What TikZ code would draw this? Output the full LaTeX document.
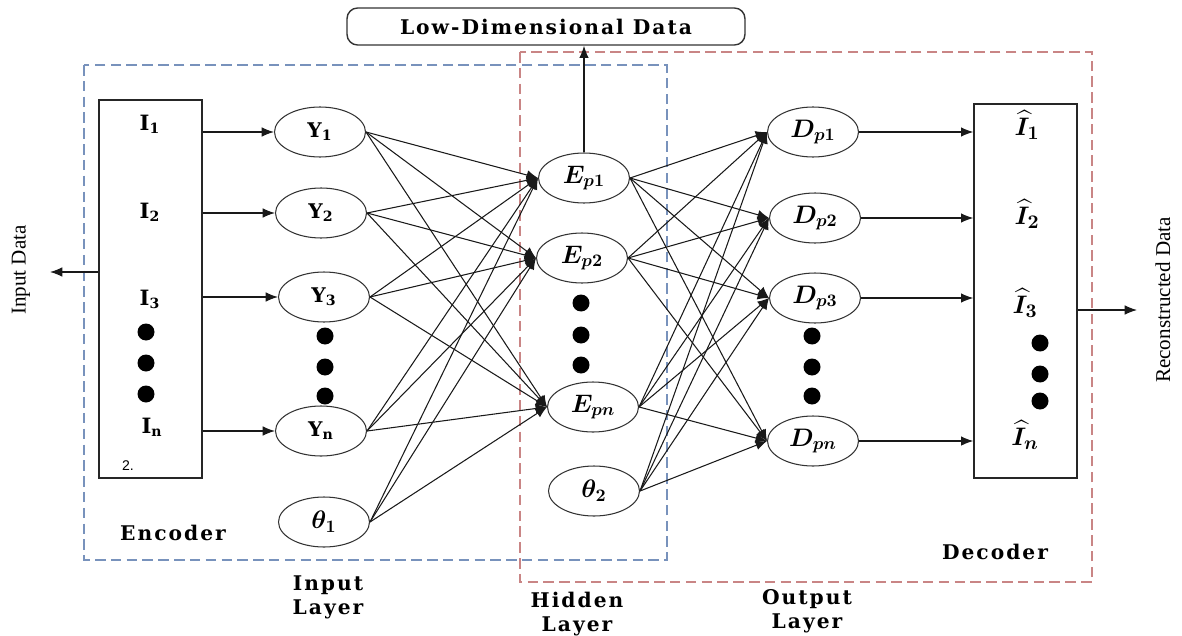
\documentclass[tikz,border=0pt]{standalone}
\usepackage{amsmath,amssymb}
\usepackage{fontspec}
\setmainfont{DejaVu Serif}
\newfontfamily\tagfont[LetterSpace=10]{DejaVu Serif}
\newfontfamily\sidefont{Liberation Serif}
\newfontfamily\notefont{Liberation Sans}
\usetikzlibrary{arrows.meta,positioning,shapes.geometric}
\definecolor{encblue}{HTML}{7892BC}
\definecolor{decred}{HTML}{C98585}
\tikzset{
  unitnode/.style={ellipse,draw=black!80,line width=0.6pt,minimum width=1.82cm,minimum height=1cm,inner sep=0pt,font=\fontsize{11.5}{13}\selectfont\bfseries},
  mathunit/.style={unitnode,font=\fontsize{14}{16}\selectfont},
  vecbox/.style={draw=black!85,line width=0.8pt,minimum width=2.06cm,inner sep=0pt},
  feed/.style={-{Latex[length=7pt,width=5.5pt]},line width=0.7pt,black!90},
  wire/.style={-{Latex[length=6.5pt,width=5.5pt]},line width=0.6pt,black!90},
  encframe/.style={draw=encblue,line width=0.9pt,dash pattern=on 6pt off 3pt},
  decframe/.style={draw=decred,line width=0.9pt,dash pattern=on 6pt off 3pt},
  ellipsisdot/.style={circle,fill=black,inner sep=0pt,minimum size=0.34cm},
  tagtext/.style={font=\tagfont\fontsize{11.5}{13.6}\selectfont\bfseries,align=center},
  vectext/.style={font=\fontsize{12}{14}\selectfont\bfseries},
  hattext/.style={font=\fontsize{15}{17}\selectfont},
  sidetext/.style={font=\sidefont\fontsize{12}{13}\selectfont,rotate=90},
}

\begin{document}
\begin{tikzpicture}[x=0.02cm,y=-0.02cm]
    \useasboundingbox (0,0) rectangle (1182,635);
    % dashed frames
    \draw[encframe] (84,65) rectangle (667,560);
    \draw[decframe] (520,52) rectangle (1092,582);
    % low-dimensional data
    \node[draw=black!80,line width=0.8pt,rounded corners=6pt,minimum width=7.96cm,minimum height=0.74cm,font=\tagfont\fontsize{11.5}{13}\selectfont\bfseries] (lowdim) at (546,26.5) {Low-Dimensional Data};
    % input vector
    \node[vecbox,minimum height=7.56cm] (inbox) at (150.5,289) {};
    \node[vectext] (i1) at (150,124) {I\textsubscript{1}};
    \node[vectext] (i2) at (150,212) {I\textsubscript{2}};
    \node[vectext] (i3) at (150,299) {I\textsubscript{3}};
    \node[ellipsisdot] (idot1) at (146,332) {};
    \node[ellipsisdot] (idot2) at (146,363) {};
    \node[ellipsisdot] (idot3) at (146,394) {};
    \node[vectext] (in) at (152,427) {I\textsubscript{n}};
    \node[font=\notefont\fontsize{8}{9}\selectfont] (note) at (128,466) {2.};
    % input layer
    \node[unitnode] (Y1) at (320,132) {Y\textsubscript{1}};
    \node[unitnode] (Y2) at (321,213) {Y\textsubscript{2}};
    \node[unitnode] (Y3) at (324,297) {Y\textsubscript{3}};
    \node[ellipsisdot] (ydot1) at (325,336) {};
    \node[ellipsisdot] (ydot2) at (325,367) {};
    \node[ellipsisdot] (ydot3) at (325,396) {};
    \node[unitnode] (Yn) at (321,431) {Y\textsubscript{n}};
    \node[mathunit] (T1) at (324,522) {$\boldsymbol{\theta_1}$};
    % hidden layer
    \node[mathunit] (Ep1) at (584,178) {$\boldsymbol{E_{p1}}$};
    \node[mathunit] (Ep2) at (582,258) {$\boldsymbol{E_{p2}}$};
    \node[ellipsisdot] (edot1) at (581,303) {};
    \node[ellipsisdot] (edot2) at (581,335) {};
    \node[ellipsisdot] (edot3) at (581,365) {};
    \node[mathunit] (Epn) at (593,407) {$\boldsymbol{E_{pn}}$};
    \node[mathunit] (T2) at (594,491) {$\boldsymbol{\theta_2}$};
    % output layer
    \node[mathunit] (Dp1) at (813,132) {$\boldsymbol{D_{p1}}$};
    \node[mathunit] (Dp2) at (815,218) {$\boldsymbol{D_{p2}}$};
    \node[mathunit] (Dp3) at (815,298) {$\boldsymbol{D_{p3}}$};
    \node[ellipsisdot] (ddot1) at (812,336) {};
    \node[ellipsisdot] (ddot2) at (812,367) {};
    \node[ellipsisdot] (ddot3) at (812,396) {};
    \node[mathunit] (Dpn) at (813,441) {$\boldsymbol{D_{pn}}$};
    % reconstructed vector
    \node[vecbox,minimum height=7.48cm] (outbox) at (1025.5,291) {};
    \node[hattext] (o1) at (1027,125) {$\boldsymbol{\widehat{I}_1}$};
    \node[hattext] (o2) at (1027,214) {$\boldsymbol{\widehat{I}_2}$};
    \node[hattext] (o3) at (1025,303) {$\boldsymbol{\widehat{I}_3}$};
    \node[ellipsisdot] (odot1) at (1040,343) {};
    \node[ellipsisdot] (odot2) at (1040,374) {};
    \node[ellipsisdot] (odot3) at (1040,401) {};
    \node[hattext] (on) at (1025,435) {$\boldsymbol{\widehat{I}_n}$};
    % side labels
    \coordinate (intip) at (50,272);
    \coordinate (outtip) at (1137,310);
    \node[sidetext] (indata) at (21,270) {Input Data};
    \node[sidetext] (recdata) at (1163,300) {Reconstructed Data};
    \node[tagtext] (enc) at (173,533) {Encoder};
    \node[tagtext] (dec) at (995,552) {Decoder};
    \node[tagtext] (inlayer) at (328,597) {Input\\Layer};
    \node[tagtext] (hidlayer) at (577,614) {Hidden\\Layer};
    \node[tagtext] (outlayer) at (807,611) {Output\\Layer};
    % vector arrows
    \draw[feed] (inbox.west |- intip) -- (intip);
    \draw[feed] (inbox.east |- Y1.west) -- (Y1.west);
    \draw[feed] (inbox.east |- Y2.west) -- (Y2.west);
    \draw[feed] (inbox.east |- Y3.west) -- (Y3.west);
    \draw[feed] (inbox.east |- Yn.west) -- (Yn.west);
    \draw[feed] (Dp1.east) -- (Dp1.east -| outbox.west);
    \draw[feed] (Dp2.east) -- (Dp2.east -| outbox.west);
    \draw[feed] (Dp3.east) -- (Dp3.east -| outbox.west);
    \draw[feed] (Dpn.east) -- (Dpn.east -| outbox.west);
    \draw[feed] (outbox.east |- outtip) -- (outtip);
    \draw[feed] (Ep1.north) -- (Ep1.north |- lowdim.south);
    % full connections
    \foreach \src in {Y1,Y2,Y3,Yn,T1}
      \foreach \dst in {Ep1,Ep2,Epn}
        \draw[wire] (\src.east) -- (\dst.west);
    \foreach \src in {Ep1,Ep2,Epn,T2}
      \foreach \dst in {Dp1,Dp2,Dp3,Dpn}
        \draw[wire] (\src.east) -- (\dst.west);
  \end{tikzpicture}
\end{document}
